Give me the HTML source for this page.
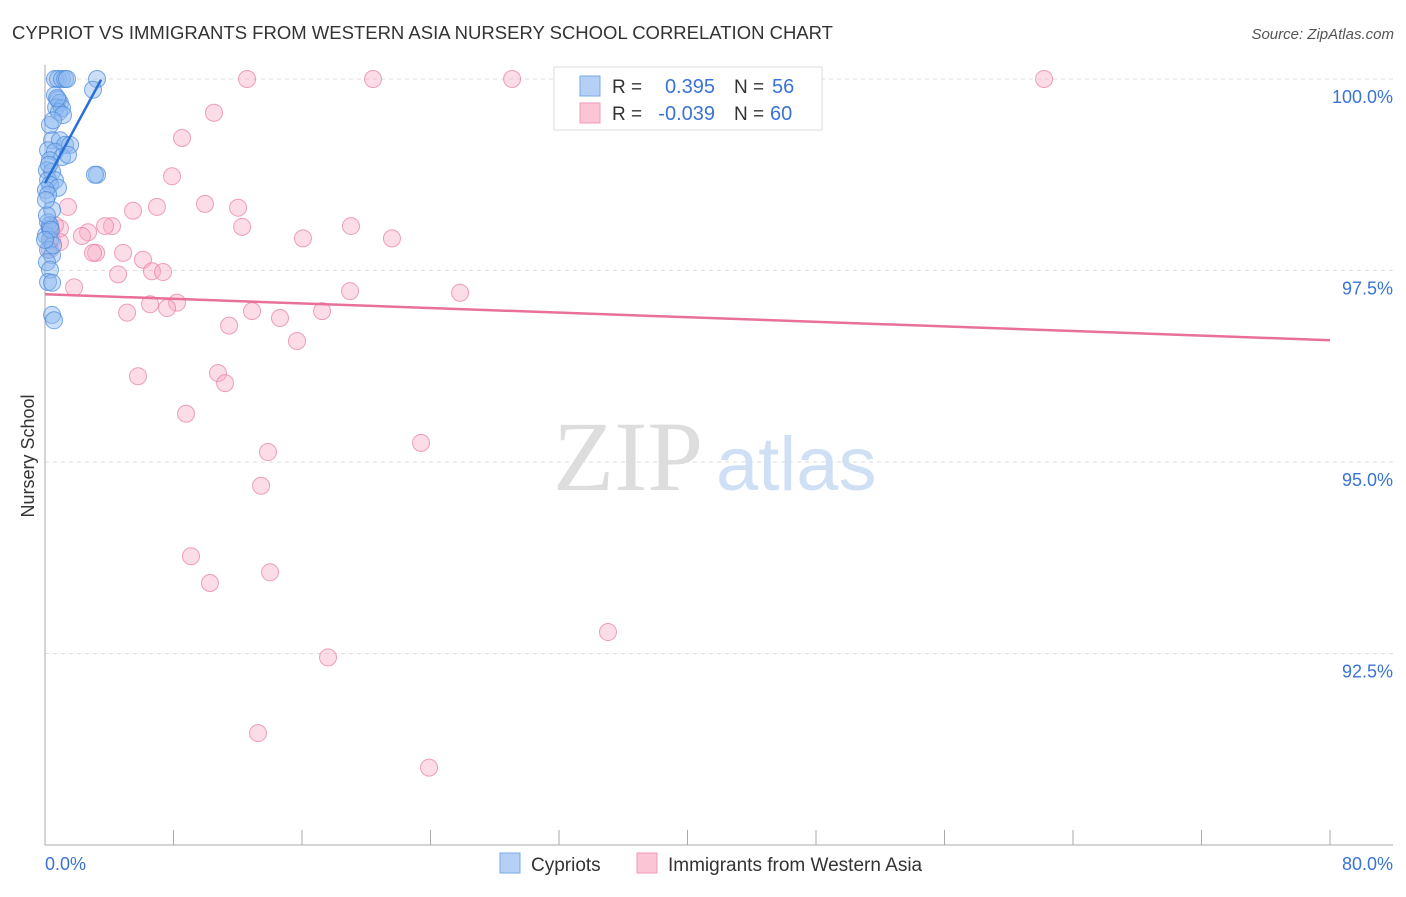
<!DOCTYPE html>
<html><head><meta charset="utf-8"><style>
body{margin:0;background:#fff;font-family:"Liberation Sans",sans-serif;}
</style></head><body>
<svg id="chart" width="1406" height="892" xmlns="http://www.w3.org/2000/svg">
<text x="12" y="39" font-size="18.5" fill="#333">CYPRIOT VS IMMIGRANTS FROM WESTERN ASIA NURSERY SCHOOL CORRELATION CHART</text>
<text x="1394" y="39" font-size="15" fill="#555" font-style="italic" text-anchor="end">Source: ZipAtlas.com</text>
<text x="34" y="456" font-size="18" fill="#333" transform="rotate(-90 34 456)" text-anchor="middle">Nursery School</text>
<g id="grid"></g>
<text x="553" y="490" font-size="100" fill="#ddd" font-family="Liberation Serif,serif">ZIP</text>
<text x="716" y="490" font-size="76" fill="#cfe0f5">atlas</text>
<g id="marks"></g>
<g>
<rect x="554" y="67" width="268" height="63" fill="#fff" stroke="#ddd"/>
<rect x="580" y="76" width="20" height="20" fill="#b5d0f5" stroke="#7aa8e8"/>
<rect x="580" y="103" width="20" height="20" fill="#fbc5d6" stroke="#ef9ab8"/>
<text x="612" y="93" font-size="19" fill="#333">R = </text>
<text x="715" y="93" font-size="20" fill="#3a73d6" text-anchor="end">0.395</text>
<text x="734" y="93" font-size="19" fill="#333">N = </text>
<text x="772" y="93" font-size="20" fill="#3a73d6">56</text>
<text x="612" y="120" font-size="19" fill="#333">R = </text>
<text x="715" y="120" font-size="20" fill="#3a73d6" text-anchor="end">-0.039</text>
<text x="734" y="120" font-size="19" fill="#333">N = </text>
<text x="770" y="120" font-size="20" fill="#3a73d6">60</text>
</g>
<g>
<rect x="500" y="853" width="20" height="20" fill="#b5d0f5" stroke="#7aa8e8"/>
<text x="531" y="871" font-size="19" fill="#333">Cypriots</text>
<rect x="637" y="853" width="20" height="20" fill="#fbc5d6" stroke="#ef9ab8"/>
<text x="668" y="871" font-size="19" fill="#333">Immigrants from Western Asia</text>
</g>
</svg>
<script>
const yTicks=[100,97.5,95,92.5];
const yTickLabels=["100.0%","97.5%","95.0%","92.5%"];
const xTickLabels=["0.0%","80.0%"];
const blueX=[0.62,0.81,1.06,1.25,1.37,3.24,2.99,0.62,0.81,0.93,0.69,1.06,0.87,1.12,0.31,0.44,0.93,1.25,1.56,0.19,0.62,1.06,1.43,0.31,0.12,0.44,0.19,0.62,0.31,0.81,0.06,0.19,3.24,3.11,0.44,0.19,0.31,0.06,0.31,0.19,0.44,0.12,0.31,0.19,0.44,0.44,0.56,0.31,0.06,0.5,0.75,0.25,0.12,0.5,0.37,0];
const blueY=[100,100,100,100,100,100,99.86,99.79,99.73,99.69,99.63,99.62,99.57,99.53,99.40,99.20,99.20,99.14,99.14,99.07,99.05,98.98,99.01,98.94,98.81,98.79,98.68,98.68,98.62,98.58,98.55,98.49,98.75,98.75,98.29,98.13,98.05,97.96,97.90,97.77,97.70,97.61,97.51,97.35,97.34,96.92,96.85,98.09,98.42,99.46,99.75,98.88,98.22,97.83,98.03,97.90];
const pinkX=[12.58,20.42,29.08,42.27,62.2,10.52,8.53,7.91,9.96,12.02,6.97,5.48,1.43,12.27,19.05,4.17,3.74,2.68,2.30,16.06,21.6,0.93,0.62,0.31,0.44,0.93,3.18,4.86,6.1,6.66,7.35,4.55,1.81,18.99,25.84,6.54,8.22,7.6,5.11,12.89,14.63,17.25,11.46,15.69,5.79,10.77,11.21,8.78,23.41,13.88,13.45,9.09,10.27,14.01,35.05,17.62,13.26,23.91,2.99,0.31];
const pinkY=[100,100,100,100,100,99.56,99.23,98.73,98.37,98.32,98.33,98.28,98.33,98.07,98.08,98.08,98.08,98.0,97.95,97.92,97.92,98.05,98.09,98.03,97.90,97.87,97.73,97.73,97.64,97.49,97.48,97.45,97.28,97.23,97.21,97.06,97.08,97.01,96.95,96.97,96.88,96.97,96.78,96.58,96.12,96.16,96.03,95.63,95.25,95.13,94.69,93.77,93.42,93.56,92.78,92.45,91.46,91.01,97.73,97.77];
const blueFit=[[0,98.64],[3.49,99.99]];
const pinkFit=[[0,97.19],[80,96.59]];
const NS="http://www.w3.org/2000/svg";
const X=v=>45+v/80*1285;
const Y=v=>79+(100-v)/2.5*191.5;
const grid=document.getElementById('grid'),marks=document.getElementById('marks');
function mk(tag,at,parent){const e=document.createElementNS(NS,tag);for(const k in at)e.setAttribute(k,at[k]);parent.appendChild(e);return e;}
yTicks.forEach((t,i)=>{
 const l=mk('line',{x1:45,x2:1393,y1:Y(t),y2:Y(t),stroke:'#ddd','stroke-dasharray':'4,4'},grid);
 
 
 const tx=mk('text',{x:1393,y:Y(t)+24,'font-size':18,fill:'#3a73d6','text-anchor':'end'},grid);
 tx.textContent=yTickLabels[i];
 
 
});
const ax=mk('line',{x1:45,x2:45,y1:65,y2:845,stroke:'#aaa'},grid);


const bx=mk('line',{x1:45,x2:1393,y1:845,y2:845,stroke:'#aaa'},grid);


for(let i=0;i<=10;i++){const t=mk('line',{x1:X(i*8),x2:X(i*8),y1:830,y2:845,stroke:'#aaa'},grid);
 
 }
[[0,'start',45],[80,'end',1393]].forEach((a,i)=>{const t=mk('text',{x:a[2],y:870,'font-size':18,fill:'#3a73d6','text-anchor':a[1]},grid);t.textContent=xTickLabels[i];
 
 });
pinkX.forEach((v,i)=>{const c=mk('circle',{cx:X(v),cy:Y(pinkY[i]),r:8.5,fill:'rgba(247,170,196,0.4)',stroke:'rgba(232,130,166,0.75)'},marks);
 
 });
blueX.forEach((v,i)=>{const c=mk('circle',{cx:X(v),cy:Y(blueY[i]),r:8.5,fill:'rgba(140,185,240,0.45)',stroke:'rgba(80,140,220,0.75)'},marks);
 
 });
const pl=mk('line',{x1:X(pinkFit[0][0]),y1:Y(pinkFit[0][1]),x2:X(pinkFit[1][0]),y2:Y(pinkFit[1][1]),stroke:'#e8709a','stroke-width':2.5},marks);


const bl=mk('line',{x1:X(blueFit[0][0]),y1:Y(blueFit[0][1]),x2:X(blueFit[1][0]),y2:Y(blueFit[1][1]),stroke:'#2a6fd6','stroke-width':2.5},marks);


</script>
</body></html>
